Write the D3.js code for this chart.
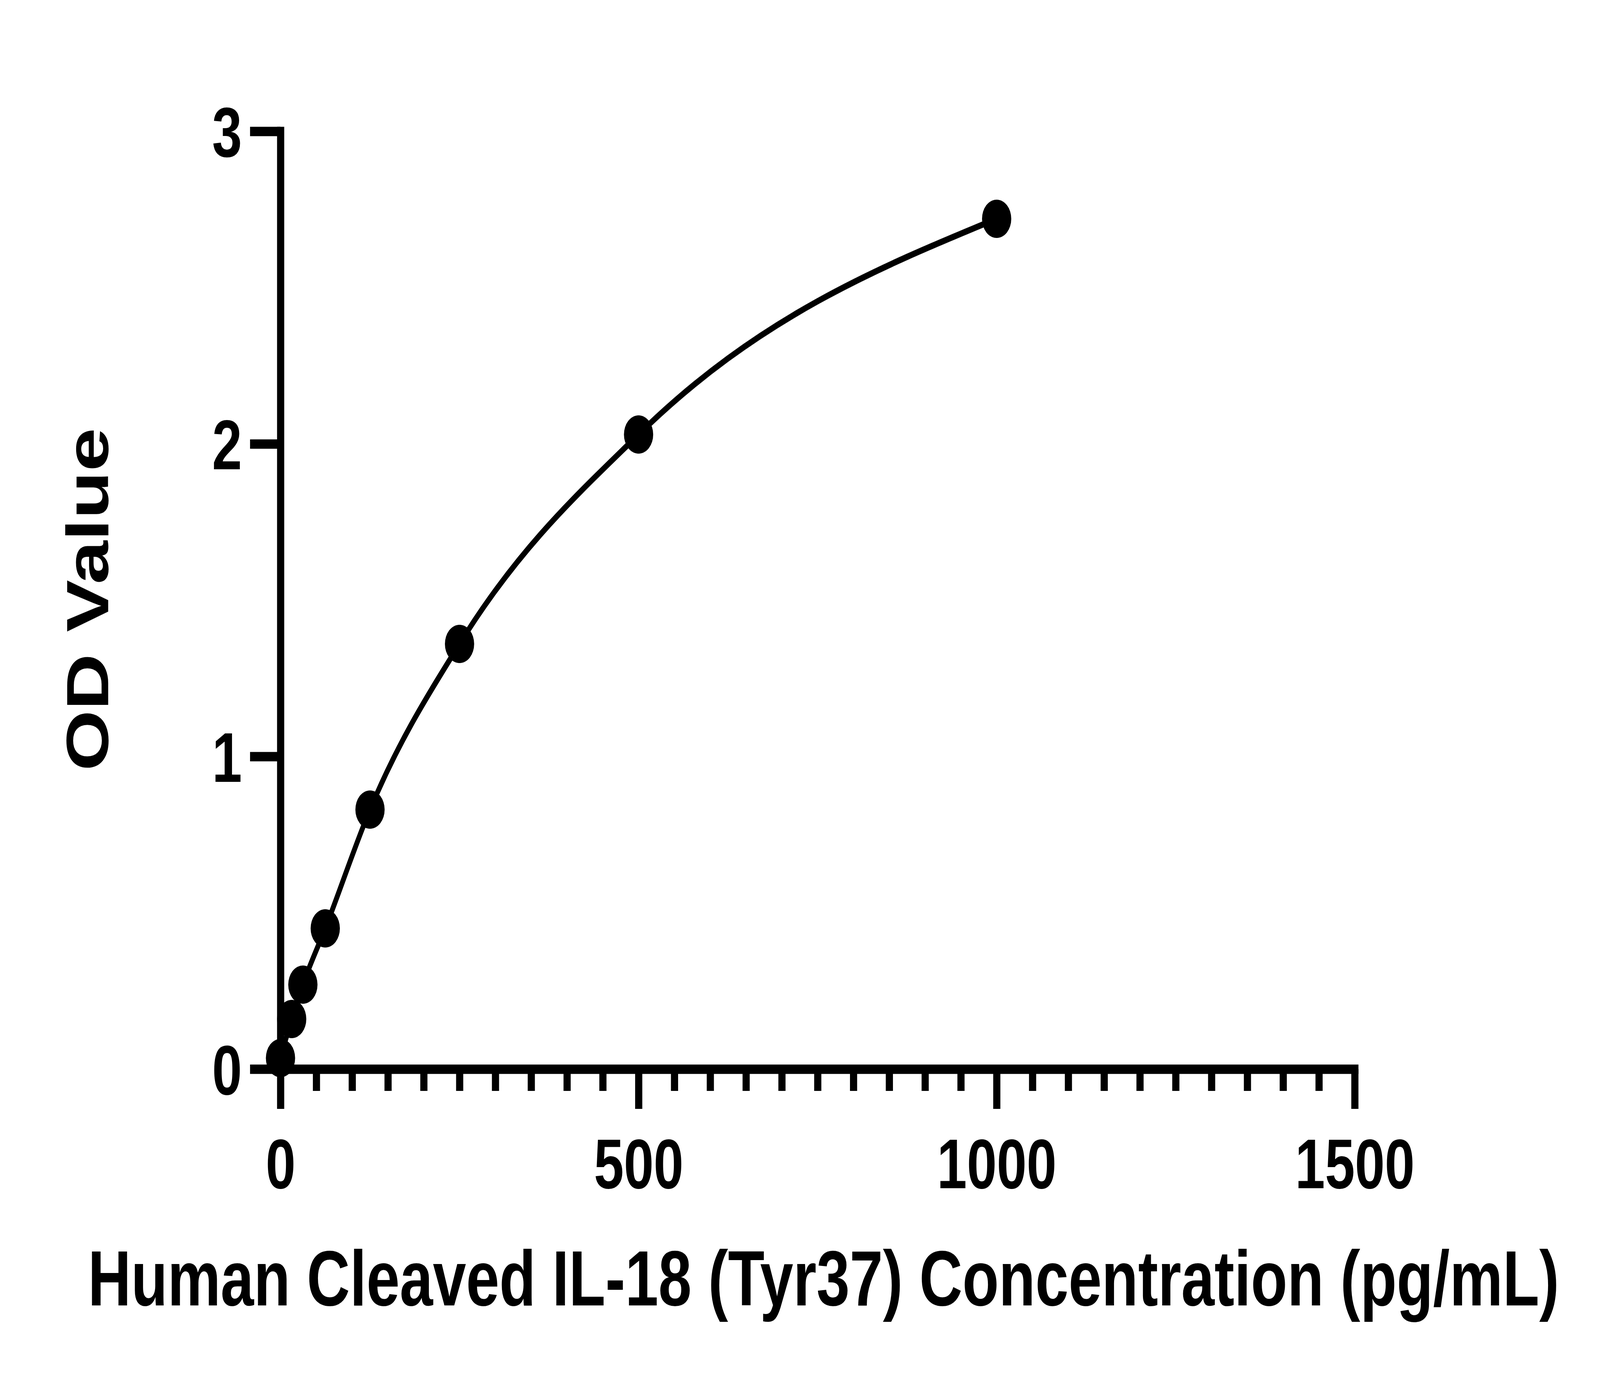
<!DOCTYPE html>
<html>
<head>
<meta charset="utf-8">
<script src="https://cdn.jsdelivr.net/npm/d3@7"></script>
<style>
  html, body { margin: 0; padding: 0; background: #ffffff; overflow: hidden; width: 100%; height: 100%; }
  svg { display: block; width: 100vw; height: 100vh; }
  text { font-family: "Liberation Sans", Arial, sans-serif; font-weight: bold; fill: #000; }
</style>
</head>
<body>
<script>
// ---- data ----
const concentrations = [0, 15.625, 31.25, 62.5, 125, 250, 500, 1000];
const odValues = [0.035, 0.16, 0.27, 0.45, 0.83, 1.36, 2.03, 2.72];
const xMajorTicks = [0, 500, 1000, 1500];
const yMajorTicks = [0, 1, 2, 3];
const xMinorStep = 50;
const xTitle = "Human Cleaved IL-18 (Tyr37) Concentration (pg/mL)";
const yTitle = "OD Value";

// ---- layout (reference pixel space, stretched to fill the window) ----
const W = 5362, H = 3560;
const x0 = 940, x1 = 4540, y0 = 2736, y1 = 336;

const svg = d3.select("body").append("svg")
  .attr("viewBox", `0 0 ${W} ${H}`)
  .attr("preserveAspectRatio", "none");
svg.append("rect").attr("width", W).attr("height", H).attr("fill", "#fff");

const x = d3.scaleLinear().domain([0, 1500]).range([x0, x1]);
const y = d3.scaleLinear().domain([0, 3]).range([y0, y1]);

const AXW = 24;
const tickFont = 180;
const fontFam = '"Liberation Sans", Arial, sans-serif';

// minor x ticks
const minorVals = d3.range(0, 1500 + 1, xMinorStep).filter(v => !xMajorTicks.includes(v));
const gMinor = svg.append("g").attr("transform", `translate(0,${y0})`)
  .call(d3.axisBottom(x).tickValues(minorVals).tickSize(56).tickSizeOuter(0).tickFormat(""));
gMinor.select(".domain").remove();
gMinor.selectAll(".tick line").attr("stroke", "#000").attr("stroke-width", AXW);

// major x axis
const gx = svg.append("g").attr("transform", `translate(0,${y0})`)
  .call(d3.axisBottom(x).tickValues(xMajorTicks).tickSize(102).tickSizeOuter(0).tickPadding(75).tickFormat(d3.format("d")));
gx.select(".domain").attr("stroke", "#000").attr("stroke-width", AXW).attr("stroke-linecap", "square");
gx.selectAll(".tick line").attr("stroke", "#000").attr("stroke-width", AXW);
gx.selectAll(".tick text").attr("font-size", tickFont).attr("fill", "#000")
  .attr("font-family", fontFam).attr("font-weight", "bold");

// y axis
const gy = svg.append("g").attr("transform", `translate(${x0},0)`)
  .call(d3.axisLeft(y).tickValues(yMajorTicks).tickSize(102).tickSizeOuter(0).tickPadding(27).tickFormat(d3.format("d")));
gy.select(".domain").attr("stroke", "#000").attr("stroke-width", AXW).attr("stroke-linecap", "square");
gy.selectAll(".tick line").attr("stroke", "#000").attr("stroke-width", AXW);
gy.selectAll(".tick text").attr("font-size", tickFont).attr("fill", "#000").attr("dy", "0.36em")
  .attr("font-family", fontFam).attr("font-weight", "bold");

// fitted curve through the standards
const pts = concentrations.map((c, i) => [c, odValues[i]]);
const line = d3.line().x(d => x(d[0])).y(d => y(d[1])).curve(d3.curveMonotoneX);
svg.append("path").datum(pts)
  .attr("d", line)
  .attr("fill", "none").attr("stroke", "#000").attr("stroke-width", 16)
  .attr("stroke-linejoin", "round");

// points
svg.append("g").selectAll("circle").data(pts).join("circle")
  .attr("cx", d => x(d[0])).attr("cy", d => y(d[1])).attr("r", 49).attr("fill", "#000");

// titles
svg.append("text")
  .attr("x", 2760).attr("y", 3341)
  .attr("text-anchor", "middle").attr("font-size", 200)
  .attr("font-family", fontFam).attr("font-weight", "bold")
  .text(xTitle);

svg.append("text")
  .attr("transform", "translate(362,1534) rotate(-90)")
  .attr("text-anchor", "middle").attr("font-size", 200)
  .attr("font-family", fontFam).attr("font-weight", "bold")
  .text(yTitle);
</script>
</body>
</html>
